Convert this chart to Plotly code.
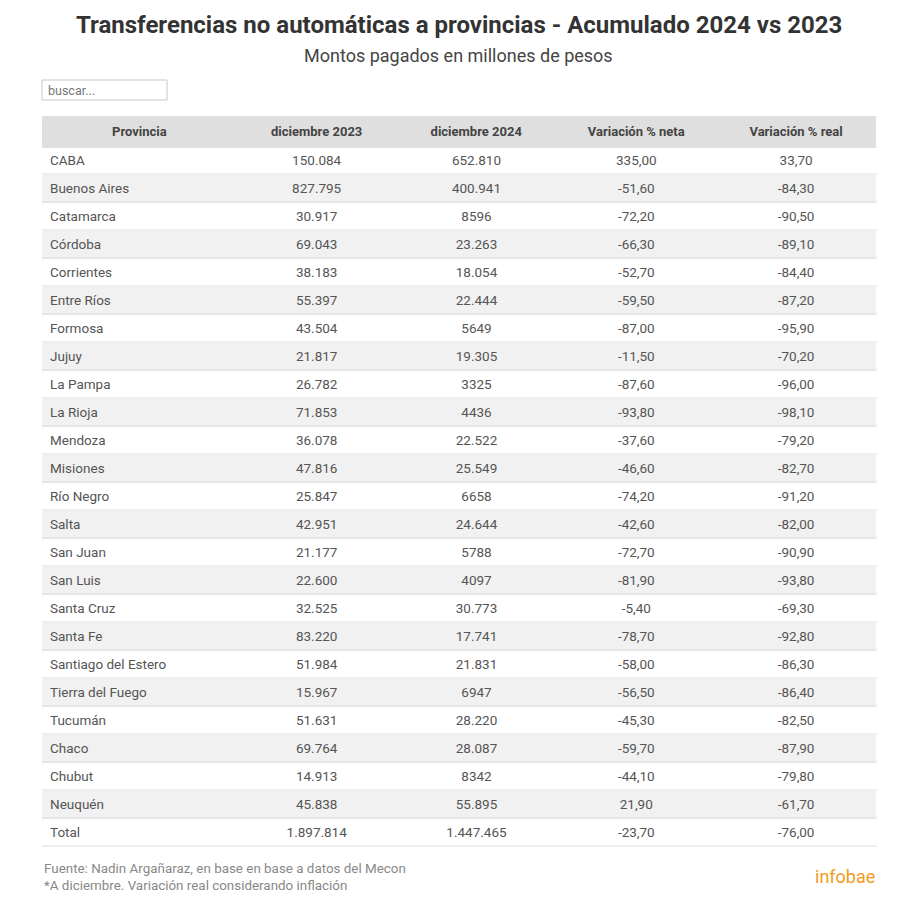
import plotly.graph_objects as go

# Transferencias no automaticas - montos en millones de pesos
provincias = ["CABA", "Buenos Aires", "Catamarca", "Córdoba", "Corrientes", "Entre Ríos",
              "Formosa", "Jujuy", "La Pampa", "La Rioja", "Mendoza", "Misiones", "Río Negro",
              "Salta", "San Juan", "San Luis", "Santa Cruz", "Santa Fe", "Santiago del Estero",
              "Tierra del Fuego", "Tucumán", "Chaco", "Chubut", "Neuquén", "Total"]
dic_2023 = [150084, 827795, 30917, 69043, 38183, 55397, 43504, 21817, 26782, 71853, 36078,
            47816, 25847, 42951, 21177, 22600, 32525, 83220, 51984, 15967, 51631, 69764,
            14913, 45838, 1897814]
dic_2024 = [652810, 400941, 8596, 23263, 18054, 22444, 5649, 19305, 3325, 4436, 22522,
            25549, 6658, 24644, 5788, 4097, 30773, 17741, 21831, 6947, 28220, 28087,
            8342, 55895, 1447465]
var_neta = [335.00, -51.60, -72.20, -66.30, -52.70, -59.50, -87.00, -11.50, -87.60, -93.80,
            -37.60, -46.60, -74.20, -42.60, -72.70, -81.90, -5.40, -78.70, -58.00, -56.50,
            -45.30, -59.70, -44.10, 21.90, -23.70]
var_real = [33.70, -84.30, -90.50, -89.10, -84.40, -87.20, -95.90, -70.20, -96.00, -98.10,
            -79.20, -82.70, -91.20, -82.00, -90.90, -93.80, -69.30, -92.80, -86.30, -86.40,
            -82.50, -87.90, -79.80, -61.70, -76.00]
columnas = ["Provincia", "diciembre 2023", "diciembre 2024", "Variación % neta", "Variación % real"]


def fmt_monto(n):
    if n >= 10000:
        return f"{n:,}".replace(",", ".")
    return str(n)


def fmt_pct(v):
    return f"{v:.2f}".replace(".", ",")


W, H = 900, 909
OFF = 8  # margen del body de la pagina
ROW_H = 28
FONT = "Roboto"


def px(x):
    return (x - OFF) / W


def py(y):
    return 1 - (y - OFF) / H


n = len(provincias)
row_fill = ["white" if i % 2 == 0 else "#f1f1f1" for i in range(n)]
fills = [row_fill] * len(columnas)

fig = go.Figure()
fig.add_trace(go.Table(
    # el header queda de ~30px, se sube 2px para que las filas arranquen en 146
    domain=dict(x=[px(42), px(877)], y=[py(880), py(116)]),
    columnwidth=[195, 160, 160, 160, 160],
    header=dict(
        values=["<b>" + c + "</b>" for c in columnas],
        fill_color="#e0dfdf",
        line=dict(color="#e0dfdf", width=1),
        align="center",
        height=28,
        font=dict(family=FONT, size=13, color="#444"),
    ),
    cells=dict(
        values=[provincias,
                [fmt_monto(v) for v in dic_2023],
                [fmt_monto(v) for v in dic_2024],
                [fmt_pct(v) for v in var_neta],
                [fmt_pct(v) for v in var_real]],
        fill_color=fills,
        line=dict(color=fills, width=1),
        align=["left", "center", "center", "center", "center"],
        height=ROW_H,
        font=dict(family=FONT, size=13.5, color="#555"),
    ),
))

# separadores horizontales de filas
for i in range(n):
    y = 146 + ROW_H * (i + 1)
    fig.add_shape(type="line", xref="paper", yref="paper",
                  x0=px(42), x1=px(877), y0=py(y), y1=py(y),
                  line=dict(color="#dcdcdc", width=1))

# caja de busqueda
fig.add_shape(type="rect", xref="paper", yref="paper",
              x0=px(42), x1=px(167), y0=py(100), y1=py(80),
              line=dict(color="#c8c8c8", width=1), fillcolor="white")

annots = [
    dict(text="<b>Transferencias no automáticas a provincias - Acumulado 2024 vs 2023</b>",
         x=px(459), y=py(25), xanchor="center", font=dict(size=24, color="#333")),
    dict(text="Montos pagados en millones de pesos",
         x=px(459), y=py(55), xanchor="center", font=dict(size=18, color="#444")),
    dict(text="buscar...", x=px(46), y=py(90), xanchor="left",
         font=dict(size=12.5, color="#777")),
    dict(text="Fuente: Nadin Argañaraz, en base en base a datos del Mecon",
         x=px(42), y=py(868), xanchor="left", font=dict(size=13.4, color="#888")),
    dict(text="*A diciembre. Variación real considerando inflación",
         x=px(42), y=py(885), xanchor="left", font=dict(size=13.4, color="#888")),
    dict(text="infobae", x=px(877), y=py(876), xanchor="right",
         font=dict(size=18, color="#f39a1e")),
]
for a in annots:
    fig.add_annotation(xref="paper", yref="paper", yanchor="middle", showarrow=False,
                       font_family=FONT, **a)

fig.update_layout(
    width=W, height=H,
    margin=dict(l=0, r=0, t=0, b=0),
    paper_bgcolor="white",
    plot_bgcolor="white",
    font=dict(family=FONT),
)

fig.write_html("out.html")
